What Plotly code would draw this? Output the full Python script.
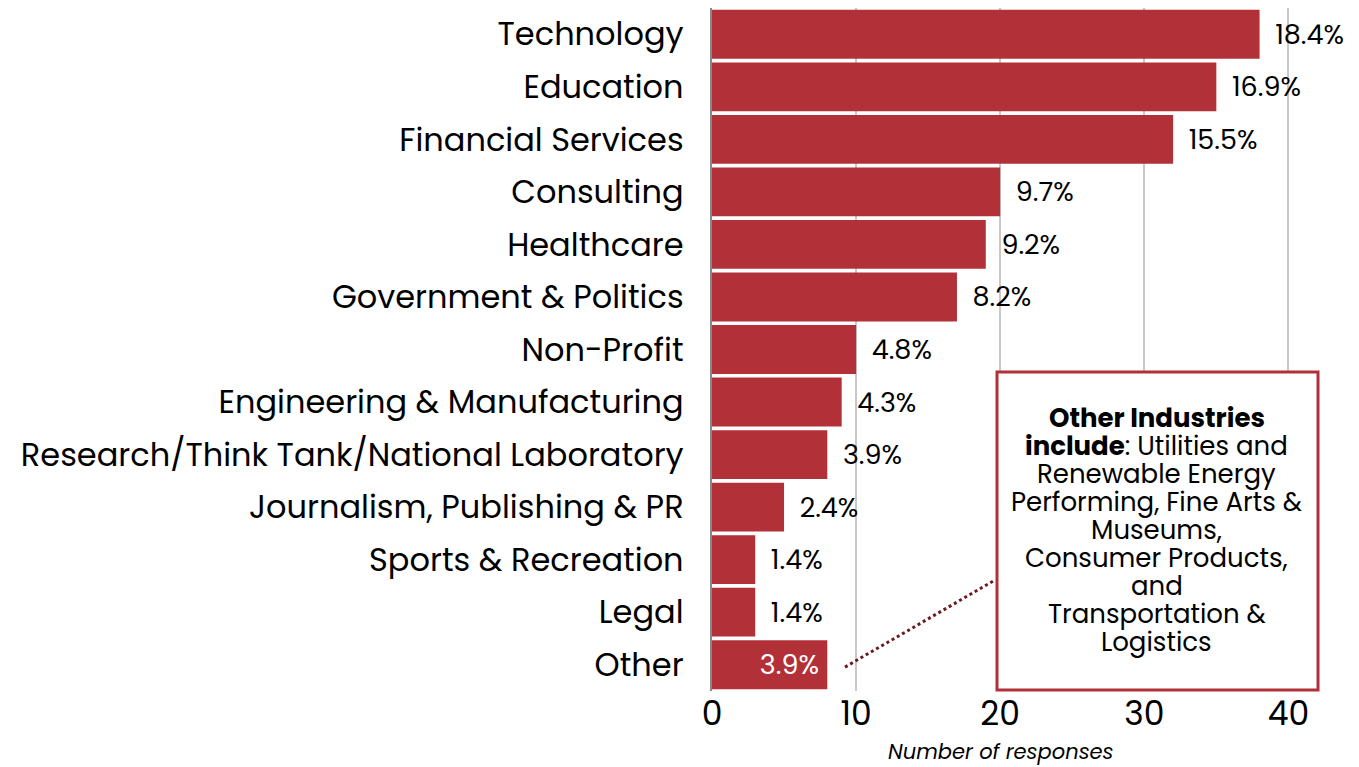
import plotly.graph_objects as go

industries = ['Technology', 'Education', 'Financial Services', 'Consulting', 'Healthcare',
              'Government & Politics', 'Non-Profit', 'Engineering & Manufacturing',
              'Research/Think Tank/National Laboratory', 'Journalism, Publishing & PR',
              'Sports & Recreation', 'Legal', 'Other']
responses = [38, 35, 32, 20, 19, 17, 10, 9, 8, 5, 3, 3, 8]
shares = [18.4, 16.9, 15.5, 9.7, 9.2, 8.2, 4.8, 4.3, 3.9, 2.4, 1.4, 1.4, 3.9]

note_lines = ['<b>Other Industries</b>', '<b>include</b>: Utilities and', 'Renewable Energy',
              'Performing, Fine Arts &amp;', 'Museums,', 'Consumer Products,', 'and',
              'Transportation &amp;', 'Logistics']

bar_color = '#B23037'
font_family = 'Poppins, Inter, sans-serif'

nb, thin = '\u00a0', '\u2009'
labels, positions, text_colors = [], [], []
for c, s in zip(industries, shares):
    if c == 'Other':
        labels.append(f'{s:.1f}%' + thin)
        positions.append('inside')
        text_colors.append('white')
    else:
        labels.append(nb + thin + f'{s:.1f}%')
        positions.append('outside')
        text_colors.append('black')

fig = go.Figure()
fig.add_trace(go.Bar(
    x=responses, y=industries, orientation='h',
    marker=dict(color=bar_color, line_width=0),
    text=labels,
    textposition=positions,
    insidetextanchor='end',
    constraintext='none',
    textfont=dict(size=27, color=text_colors, family=font_family),
    cliponaxis=False,
    showlegend=False,
))

# note box for the "Other" category
fig.add_shape(type='rect', xref='paper', yref='paper',
              x0=0.4766, x1=1.0134, y0=0.0015, y1=0.467,
              line=dict(color=bar_color, width=3), fillcolor='white', layer='above')
fig.add_shape(type='line', xref='x', yref='paper',
              x0=9.23, y0=0.035, x1=19.64, y1=0.1625,
              line=dict(color='#6B1A20', width=3, dash='dot'))
for i, line in enumerate(note_lines):
    fig.add_annotation(xref='paper', yref='paper', x=0.7441, y=(691 - 418 - 28 * i) / 683,
                       xanchor='center', yanchor='middle',
                       text=line, showarrow=False, align='center',
                       font=dict(size=26, color='black', family=font_family))

fig.add_annotation(xref='paper', yref='paper', x=0.4833, y=-0.089,
                   xanchor='center', yanchor='middle', showarrow=False,
                   text='<i>Number of responses</i>',
                   font=dict(size=21, color='black', family=font_family))

fig.update_layout(
    width=1351, height=759,
    plot_bgcolor='white', paper_bgcolor='white',
    margin=dict(l=704, r=49, t=0, b=76),
    bargap=0.07,
    font=dict(family=font_family, color='black'),
)
fig.update_xaxes(range=[0, 41.5], tickvals=[0, 10, 20, 30, 40],
                 tickfont=dict(size=33), showgrid=True, gridcolor='#C8C8C8', gridwidth=2,
                 zeroline=False, showline=False)
fig.update_yaxes(autorange='reversed', tickfont=dict(size=32), ticklabelstandoff=20,
                 showline=True, linecolor='#888888', linewidth=2, showgrid=False)

fig.write_html('out.html')
